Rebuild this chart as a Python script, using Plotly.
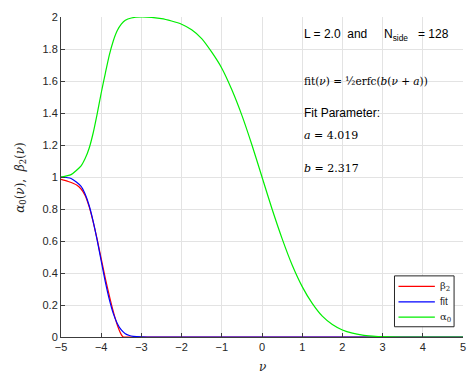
import plotly.graph_objects as go

# alpha_0(nu) samples
nu_alpha = [-5.0, -4.75, -4.5, -4.4, -4.3, -4.2, -4.1, -4.0, -3.9, -3.8, -3.7, -3.6,
            -3.5, -3.4, -3.25, -3.0, -2.5, -2.25, -2.0, -1.75, -1.5, -1.25, -1.0,
            -0.75, -0.5, -0.25, 0.0, 0.25, 0.5, 0.75, 1.0, 1.25, 1.5, 1.75, 2.0,
            2.25, 2.5, 2.75, 3.0, 3.5, 4.0, 5.0]
alpha0 = [1.0, 1.015, 1.07, 1.115, 1.18, 1.275, 1.395, 1.525, 1.645, 1.76, 1.85, 1.915,
          1.955, 1.98, 1.994, 2.0, 1.99, 1.975, 1.955, 1.92, 1.865, 1.78, 1.68,
          1.545, 1.385, 1.2, 1.0, 0.80, 0.615, 0.45, 0.315, 0.21, 0.13, 0.078, 0.044,
          0.024, 0.012, 0.006, 0.002, 0.0, 0.0, 0.0]

# beta_2(nu) samples
nu_beta = [-5.0, -4.82, -4.61, -4.5, -4.4, -4.3, -4.2, -4.1, -4.0, -3.9, -3.8, -3.7,
           -3.6, -3.5, -3.45, -3.3, -3.0, 0.0, 5.0]
beta2 = [0.985, 0.972, 0.95, 0.925, 0.885, 0.815, 0.72, 0.61, 0.49, 0.37, 0.26, 0.16,
         0.075, 0.015, 0.0, 0.0, 0.0, 0.0, 0.0]

# fit(nu) = 1/2 erfc(b (nu + a)), a = 4.019, b = 2.317
nu_fit = [-5.0, -4.75, -4.5, -4.4, -4.3, -4.2, -4.1, -4.0, -3.9, -3.8, -3.7, -3.6,
          -3.5, -3.4, -3.3, -3.2, -3.0, -2.8, 0.0, 5.0]
fit = [1.0, 0.991, 0.942, 0.894, 0.822, 0.723, 0.605, 0.475, 0.348, 0.237, 0.148, 0.085,
       0.044, 0.0205, 0.0093, 0.0037, 0.0004, 0.0, 0.0, 0.0]

x_ticks = [-5, -4, -3, -2, -1, 0, 1, 2, 3, 4, 5]
y_ticks = [0, 0.2, 0.4, 0.6, 0.8, 1, 1.2, 1.4, 1.6, 1.8, 2]

series = [
    ("β<sub>2</sub>", nu_beta, beta2, "#ff0000"),
    ("fit", nu_fit, fit, "#0000ff"),
    ("α<sub>0</sub>", nu_alpha, alpha0, "#00ee00"),
]

fig = go.Figure()
for name, xs, ys, color in series:
    fig.add_trace(go.Scatter(x=xs, y=ys, mode="lines", name=name, showlegend=False,
                             line=dict(color=color, width=1.2, shape="spline", smoothing=0.6)))

axis_common = dict(
    showgrid=True, gridcolor="#e3e3e3", gridwidth=1,
    zeroline=False, showline=True, linecolor="#3c3c3c", linewidth=1,
    ticks="inside", ticklen=4, tickcolor="#3c3c3c", ticklabeloverflow="allow",
    tickfont=dict(family="Liberation Sans, Arial, sans-serif", size=11, color="#262626"),
)

fig.update_xaxes(range=[-5, 5], tickvals=x_ticks, **axis_common)
fig.update_yaxes(range=[0, 2], tickvals=y_ticks, **axis_common)

sans = "Liberation Sans, Arial, sans-serif"
serif = "DejaVu Serif, Liberation Serif, serif"
text_annotations = [
    dict(x=1.0, y=1.89, text="L = 2.0  and     N<sub>side</sub>   = 128", font=dict(family=sans, size=12, color="#000")),
    dict(x=1.0, y=1.60, text="fit(<i>ν</i>) = ½erfc(<i>b</i>(<i>ν</i> + <i>a</i>))", font=dict(family=serif, size=10.5, color="#000")),
    dict(x=1.0, y=1.40, text="Fit Parameter:", font=dict(family=sans, size=12, color="#000")),
    dict(x=1.0, y=1.26, text="<i>a</i> = 4.019", font=dict(family=serif, size=11, color="#000")),
    dict(x=1.0, y=1.055, text="<i>b</i> = 2.317", font=dict(family=serif, size=11, color="#000")),
]
for a in text_annotations:
    fig.add_annotation(xref="x", yref="y", xanchor="left", yanchor="middle", showarrow=False, **a)

fig.add_annotation(xref="paper", yref="paper", x=-0.10, y=0.5, textangle=-90,
                   text="<i>α</i><sub>0</sub>(<i>ν</i>),  <i>β</i><sub>2</sub>(<i>ν</i>)",
                   showarrow=False, xanchor="center", yanchor="middle",
                   font=dict(family=serif, size=12, color="#262626"))
fig.add_annotation(xref="paper", yref="paper", x=0.5, y=-0.095, text="<i>ν</i>",
                   showarrow=False, xanchor="center", yanchor="middle",
                   font=dict(family=serif, size=12, color="#262626"))

# Boxed legend in the lower-right corner of the axes
fig.add_shape(type="rect", xref="paper", yref="paper", x0=0.8296, x1=0.9778, y0=0.032, y1=0.191,
              line=dict(color="#262626", width=1), fillcolor="white", layer="above")
legend_rows = [0.158, 0.110, 0.0624]
for (name, _, _, color), yrow in zip(series, legend_rows):
    fig.add_shape(type="line", xref="paper", yref="paper", x0=0.8395, x1=0.930, y0=yrow, y1=yrow,
                  line=dict(color=color, width=1.2), layer="above")
    fig.add_annotation(xref="paper", yref="paper", x=0.938, y=yrow, text=name, showarrow=False,
                       xanchor="left", yanchor="middle",
                       font=dict(family=serif if name != "fit" else sans, size=10, color="#262626"))

fig.update_layout(
    width=467, height=371,
    margin=dict(l=61, r=1, t=17, b=34),
    plot_bgcolor="white", paper_bgcolor="white",
)

fig.write_html("out.html")
